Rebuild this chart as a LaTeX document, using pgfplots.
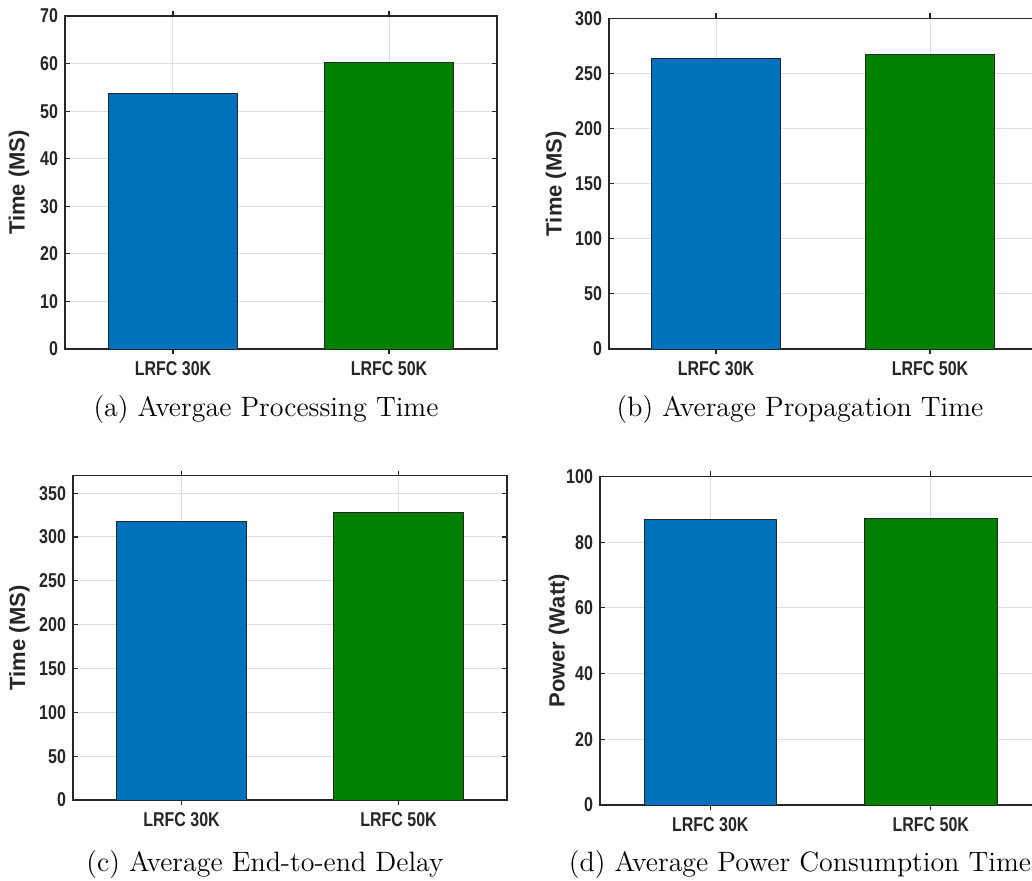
\documentclass[border=0pt]{standalone}
\usepackage{fontspec}
\usepackage{pgfplots}
\pgfplotsset{compat=1.18}
\newfontfamily\tickfont[FakeStretch=0.8]{Liberation Sans}
\newfontfamily\labfont{Liberation Sans}
\definecolor{mblue}{RGB}{0,114,189}
\definecolor{mgreen}{RGB}{0,128,0}
\definecolor{axgray}{RGB}{38,38,38}
\definecolor{gridgray}{RGB}{223,223,223}
\pgfplotsset{
 panel/.style={
  scale only axis, anchor=south west,
  xmin=0.5, xmax=2.5, ymin=0,
  xtick={1,2}, xticklabels={LRFC 30K, LRFC 50K},
  grid=major, major grid style={gridgray, line width=0.5pt},
  axis line style={axgray, line width=0.6pt},
  tick style={axgray, line width=0.6pt},
  tick align=inside, major tick length=2.5pt,
  ticklabel style={font=\tickfont\bfseries\fontsize{10}{12}\selectfont, text=axgray},
  /pgf/number format/assume math mode=true,
  every axis y label/.style={at={(rel axis cs:0,0.5)}, rotate=90, anchor=center,
     font=\labfont\bfseries\fontsize{11}{13}\selectfont, text=axgray},
  ybar, bar width=0.6,
 },
 bluebar/.style={fill=mblue, draw=axgray, line width=0.4pt, bar shift=0pt},
 greenbar/.style={fill=mgreen, draw=axgray, line width=0.4pt, bar shift=0pt},
}
\newcommand\capfont{\fontsize{14}{16}\selectfont}
\begin{document}
\begin{tikzpicture}
% (a)
\begin{axis}[panel, at={(32.5pt,-174.5pt)}, width=216pt, height=166.5pt,
  ymax=70, ytick={0,10,...,70}, ylabel={Time (MS)}, ylabel style={yshift=23pt}]
\addplot[bluebar] coordinates {(1,53.8)};
\addplot[greenbar] coordinates {(2,60.3)};
\end{axis}
% (b)
\begin{axis}[panel, at={(304.5pt,-174.5pt)}, width=214pt, height=165.3pt,
  ymax=300, ytick={0,50,...,300}, ylabel={Time (MS)}, ylabel style={yshift=26.5pt}]
\addplot[bluebar] coordinates {(1,263.7)};
\addplot[greenbar] coordinates {(2,267.5)};
\end{axis}
% (c)
\begin{axis}[panel, at={(36.5pt,-400pt)}, width=217pt, height=162.2pt,
  ymax=370, ytick={0,50,...,350}, ylabel={Time (MS)}, ylabel style={yshift=26.8pt}]
\addplot[bluebar] coordinates {(1,317.6)};
\addplot[greenbar] coordinates {(2,327.9)};
\end{axis}
% (d)
\begin{axis}[panel, at={(300pt,-402.5pt)}, width=220.5pt, height=164.3pt,
  ymax=100, ytick={0,20,...,100}, ylabel={Power (Watt)}, ylabel style={yshift=20.5pt}]
\addplot[bluebar] coordinates {(1,87.0)};
\addplot[greenbar] coordinates {(2,87.2)};
\end{axis}
\node[font=\capfont] at (133pt,-205pt) {(a) Avergae Processing Time};
\node[font=\capfont] at (400pt,-205pt) {(b) Average Propagation Time};
\node[font=\capfont] at (132.5pt,-432.5pt) {(c) Average End-to-end Delay};
\node[font=\capfont] at (400pt,-432.5pt) {(d) Average Power Consumption Time};
\pgfresetboundingbox
\useasboundingbox (0pt,0pt) rectangle (516pt,-440.5pt);
\end{tikzpicture}
\end{document}
